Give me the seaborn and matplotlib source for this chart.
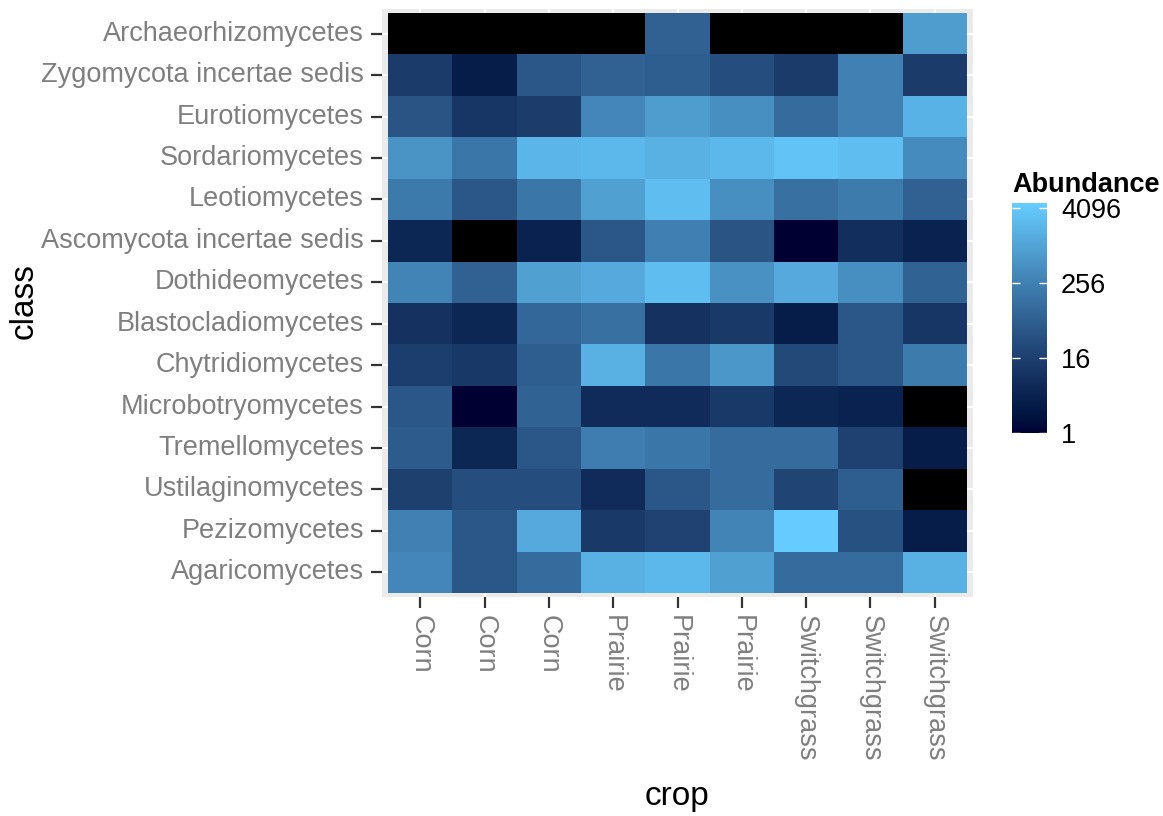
import numpy as np
import pandas as pd
import matplotlib
matplotlib.use("Agg")
import matplotlib.pyplot as plt
import seaborn as sns
from matplotlib.colors import LogNorm, ListedColormap

classes = ["Archaeorhizomycetes", "Zygomycota incertae sedis", "Eurotiomycetes",
           "Sordariomycetes", "Leotiomycetes", "Ascomycota incertae sedis",
           "Dothideomycetes", "Blastocladiomycetes", "Chytridiomycetes",
           "Microbotryomycetes", "Tremellomycetes", "Ustilaginomycetes",
           "Pezizomycetes", "Agaricomycetes"]
crop_labels = ["Corn", "Corn", "Corn", "Prairie", "Prairie", "Prairie",
               "Switchgrass", "Switchgrass", "Switchgrass"]
nan = np.nan
archaeorhizomycetes = [nan, nan, nan, nan, 70, nan, nan, nan, 800]
zygomycota = [13, 3, 45, 70, 60, 30, 13, 256, 13]
eurotiomycetes = [40, 10, 14, 330, 800, 460, 110, 256, 1800]
sordariomycetes = [550, 170, 2100, 2300, 1700, 2200, 3500, 2800, 400]
leotiomycetes = [200, 45, 170, 900, 2800, 460, 130, 210, 70]
ascomycota_is = [5, nan, 4, 45, 250, 40, 1, 7, 4]
dothideomycetes = [300, 70, 900, 1300, 2800, 500, 1300, 470, 75]
blastocladiomycetes = [8, 5, 90, 130, 8, 12, 3, 45, 10]
chytridiomycetes = [15, 11, 60, 1700, 170, 650, 25, 45, 210]
microbotryomycetes = [45, 1, 75, 6, 6, 12, 5, 4, nan]
tremellomycetes = [55, 5, 45, 230, 170, 110, 110, 17, 3]
ustilaginomycetes = [16, 30, 30, 6, 45, 110, 20, 60, nan]
pezizomycetes = [256, 45, 1300, 12, 18, 300, 5000, 35, 3]
agaricomycetes = [330, 45, 110, 1700, 2200, 900, 110, 110, 1700]

values = np.array([archaeorhizomycetes, zygomycota, eurotiomycetes, sordariomycetes,
                   leotiomycetes, ascomycota_is, dothideomycetes, blastocladiomycetes,
                   chytridiomycetes, microbotryomycetes, tremellomycetes,
                   ustilaginomycetes, pezizomycetes, agaricomycetes], dtype=float)
df = pd.DataFrame(values, index=classes, columns=range(len(crop_labels)))

# Lab-space gradient like ggplot's scale_fill_gradient
def srgb_to_lin(c):
    c = np.asarray(c, float)
    return np.where(c <= 0.04045, c / 12.92, ((c + 0.055) / 1.055) ** 2.4)
def lin_to_srgb(c):
    c = np.clip(c, 0, 1)
    return np.where(c <= 0.0031308, 12.92 * c, 1.055 * c ** (1 / 2.4) - 0.055)
M = np.array([[0.4124, 0.3576, 0.1805], [0.2126, 0.7152, 0.0722], [0.0193, 0.1192, 0.9505]])
Minv = np.linalg.inv(M)
wp = np.array([0.95047, 1.0, 1.08883])
def f(t):
    return np.where(t > 0.008856, np.cbrt(t), 7.787 * t + 16 / 116)
def finv(t):
    return np.where(t > 0.2069, t ** 3, (t - 16 / 116) / 7.787)
def rgb2lab(rgb):
    xyz = M @ srgb_to_lin(rgb) / wp
    fx, fy, fz = f(xyz)
    return np.array([116 * fy - 16, 500 * (fx - fy), 200 * (fy - fz)])
def lab2rgb(lab):
    L, a, b = lab
    fy = (L + 16) / 116
    fx = fy + a / 500
    fz = fy - b / 200
    xyz = finv(np.array([fx, fy, fz])) * wp
    return lin_to_srgb(Minv @ xyz)
low = np.array([0x00, 0x00, 0x33]) / 255
high = np.array([0x66, 0xCC, 0xFF]) / 255
l1, l2 = rgb2lab(low), rgb2lab(high)
cols = [lab2rgb(l1 + (l2 - l1) * t) for t in np.linspace(0, 1, 256)]
cmap = ListedColormap(cols)

plt.rcParams['font.family'] = ['Liberation Sans', 'DejaVu Sans']
W, H = 1163, 816
fig = plt.figure(figsize=(W / 100, H / 100), dpi=100)
PL, PR, PT, PB = 382, 973, 9, 597
ax = fig.add_axes([PL / W, 1 - PB / H, (PR - PL) / W, (PB - PT) / H])
cax = fig.add_axes([1012 / W, 1 - 433 / H, 35 / W, 230 / H])
ax.set_facecolor('#EBEBEB')

na_df = df.isna().astype(float)
sns.heatmap(na_df, mask=~df.isna(), cmap=ListedColormap(['black']), cbar=False, ax=ax)
norm = LogNorm(vmin=1, vmax=5000)
sns.heatmap(df, cmap=cmap, norm=norm, ax=ax, cbar_ax=cax, linewidths=0)

pad = 0.095
ax.set_xlim(-pad, len(crop_labels) + pad)
ax.set_ylim(len(classes) + pad, -pad)
ax.set_xticks(np.arange(len(crop_labels)) + 0.5)
ax.set_xticklabels(crop_labels, rotation=270, color='#7F7F7F', fontsize=19.5, va='top', ha='center')
ax.set_yticks(np.arange(len(classes)) + 0.5)
ax.set_yticklabels(classes, rotation=0, color='#7F7F7F', fontsize=19.5)
ax.tick_params(axis='both', length=8, width=1.6, color='#333333', pad=5)
ax.grid(True, color='white', linewidth=1.5)
ax.set_axisbelow(True)
for s in ax.spines.values():
    s.set_visible(False)
ax.set_xlabel('crop', fontsize=24)
ax.set_ylabel('class', fontsize=24)
ax.xaxis.set_label_coords((677 - PL) / (PR - PL), (PB - 797) / (PB - PT))
ax.yaxis.set_label_coords((24 - PL) / (PR - PL), (PB - 301) / (PB - PT))
ax.xaxis.label.set_va('center')
ax.yaxis.label.set_va('center')

cb = ax.collections[-1].colorbar
cb.set_ticks([1, 16, 256, 4096])
cb.set_ticklabels(['1', '16', '256', '4096'])
cb.minorticks_off()
cb.outline.set_visible(False)
cax.tick_params(which='both', direction='in', color='white', length=6, width=1,
                left=True, right=True, labelsize=19.5, pad=10)
cax.tick_params(which='minor', length=0)
cax.set_title('Abundance', fontsize=19.5, fontweight='bold', loc='left', pad=8)

fig.savefig('out.png', dpi=100)
